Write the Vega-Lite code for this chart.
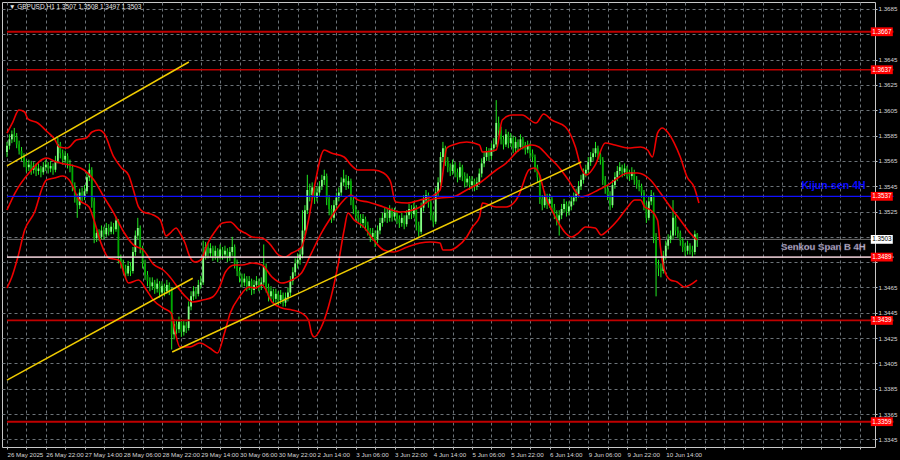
{
"$schema":"https://vega.github.io/schema/vega-lite/v6.json",
"width":873,"height":445,
"autosize":{"type":"none"},
"padding":{"left":2,"top":2,"right":25,"bottom":13},
"background":"#000000",
"config":{"view":{"stroke":"#c8c8c8","strokeWidth":1,"fill":"#000000"},"font":"Liberation Sans, Arial, sans-serif",
 "axis":{"grid":true,"gridColor":"#6c7378","gridDash":[3,3],"gridWidth":1,"domain":false,"ticks":true,"tickSize":2,"tickColor":"#c8c8c8","labelColor":"#d6d6d6","labelFontSize":6.2,"labelFont":"Liberation Sans, Arial, sans-serif","labelOverlap":false,"labelBound":false,"labelFlush":false,"title":null,"zindex":0}},
"datasets":{
"levels":[
{"name":"1.3667","p":1.3667,"kind":"major"},
{"name":"1.3637","p":1.3637,"kind":"minor"},
{"name":"Kijun-sen 4H","p":1.3537,"kind":"kijun"},
{"name":"Senkou Span B 4H","p":1.3489,"kind":"senkou"},
{"name":"1.3439","p":1.3439,"kind":"minor"},
{"name":"1.3359","p":1.3359,"kind":"major"},
{"name":"last","p":1.3503,"kind":"last"}
],
"trend":[
{"t":"A","i":0,"p":1.3561},{"t":"A","i":75.1,"p":1.36431},
{"t":"B","i":0,"p":1.33918},{"t":"B","i":76.7,"p":1.34723},
{"t":"C","i":68.2,"p":1.3414},{"t":"C","i":237.1,"p":1.35641}
],
"bb":[
{"b":"u","i":0,"p":1.3587},{"b":"u","i":2.4,"p":1.35957},{"b":"u","i":4.9,"p":1.36052},{"b":"u","i":7.3,"p":1.36036},{"b":"u","i":8.6,"p":1.35981},{"b":"u","i":12.7,"p":1.35949},{"b":"u","i":16.7,"p":1.35878},{"b":"u","i":19.6,"p":1.35823},{"b":"u","i":21.6,"p":1.3576},{"b":"u","i":24.9,"p":1.35752},{"b":"u","i":28.6,"p":1.35815},{"b":"u","i":32.7,"p":1.35831},{"b":"u","i":35.1,"p":1.35878},{"b":"u","i":38,"p":1.35894},{"b":"u","i":40,"p":1.3587},{"b":"u","i":44.1,"p":1.35681},{"b":"u","i":47.3,"p":1.35594},{"b":"u","i":50.2,"p":1.35538},{"b":"u","i":52.2,"p":1.3542},{"b":"u","i":54.3,"p":1.35286},{"b":"u","i":56.3,"p":1.35246},{"b":"u","i":60.4,"p":1.35223},{"b":"u","i":63.3,"p":1.35183},{"b":"u","i":65.7,"p":1.35057},{"b":"u","i":67.8,"p":1.35088},{"b":"u","i":69.8,"p":1.3512},{"b":"u","i":71.4,"p":1.3508},{"b":"u","i":73.5,"p":1.35001},{"b":"u","i":75.5,"p":1.34891},{"b":"u","i":77.6,"p":1.34851},{"b":"u","i":80,"p":1.34867},{"b":"u","i":82.9,"p":1.35001},{"b":"u","i":85.7,"p":1.35088},{"b":"u","i":89,"p":1.35159},{"b":"u","i":92.2,"p":1.35167},{"b":"u","i":95.9,"p":1.35104},{"b":"u","i":98.4,"p":1.3508},{"b":"u","i":101.2,"p":1.35049},{"b":"u","i":105.3,"p":1.35041},{"b":"u","i":108.2,"p":1.35001},{"b":"u","i":112.2,"p":1.34906},{"b":"u","i":114.7,"p":1.34891},{"b":"u","i":117.6,"p":1.34922},{"b":"u","i":121.6,"p":1.3497},{"b":"u","i":124.5,"p":1.35183},{"b":"u","i":126.9,"p":1.35444},{"b":"u","i":131,"p":1.35736},{"b":"u","i":133.9,"p":1.35712},{"b":"u","i":139.2,"p":1.35681},{"b":"u","i":142,"p":1.35618},{"b":"u","i":144.9,"p":1.35578},{"b":"u","i":151.4,"p":1.35578},{"b":"u","i":155.5,"p":1.35554},{"b":"u","i":158.4,"p":1.35483},{"b":"u","i":160.4,"p":1.35325},{"b":"u","i":165.3,"p":1.35317},{"b":"u","i":170.6,"p":1.35341},{"b":"u","i":175.9,"p":1.35373},{"b":"u","i":178.8,"p":1.3542},{"b":"u","i":181.6,"p":1.35752},{"b":"u","i":184.1,"p":1.35776},{"b":"u","i":189.8,"p":1.35799},{"b":"u","i":195.1,"p":1.35776},{"b":"u","i":196.3,"p":1.3572},{"b":"u","i":202,"p":1.35736},{"b":"u","i":204.5,"p":1.35973},{"b":"u","i":208.6,"p":1.36013},{"b":"u","i":212.7,"p":1.36013},{"b":"u","i":218.4,"p":1.35949},{"b":"u","i":221.6,"p":1.3602},{"b":"u","i":224.9,"p":1.35973},{"b":"u","i":230.6,"p":1.35918},{"b":"u","i":234.7,"p":1.3576},{"b":"u","i":237.1,"p":1.35594},{"b":"u","i":239.2,"p":1.35538},{"b":"u","i":242.9,"p":1.35618},{"b":"u","i":247,"p":1.35791},{"b":"u","i":251,"p":1.35776},{"b":"u","i":256.3,"p":1.35752},{"b":"u","i":261.6,"p":1.3576},{"b":"u","i":264.5,"p":1.35736},{"b":"u","i":266.5,"p":1.35681},{"b":"u","i":268.6,"p":1.3587},{"b":"u","i":270.6,"p":1.3591},{"b":"u","i":272.7,"p":1.35878},{"b":"u","i":275.5,"p":1.35791},{"b":"u","i":278,"p":1.35681},{"b":"u","i":280.8,"p":1.35523},{"b":"u","i":283.7,"p":1.35444},{"b":"u","i":285.7,"p":1.35317},
{"b":"m","i":0,"p":1.35262},{"b":"m","i":3.3,"p":1.35396},{"b":"m","i":9.4,"p":1.35562},{"b":"m","i":16.3,"p":1.35673},{"b":"m","i":20.4,"p":1.35641},{"b":"m","i":23.7,"p":1.35625},{"b":"m","i":27.8,"p":1.3561},{"b":"m","i":31.8,"p":1.35578},{"b":"m","i":35.9,"p":1.35499},{"b":"m","i":40,"p":1.35365},{"b":"m","i":44.1,"p":1.35238},{"b":"m","i":48.2,"p":1.35088},{"b":"m","i":52.2,"p":1.34986},{"b":"m","i":56.3,"p":1.34946},{"b":"m","i":60.4,"p":1.34835},{"b":"m","i":64.5,"p":1.34788},{"b":"m","i":67.3,"p":1.34733},{"b":"m","i":69.8,"p":1.3467},{"b":"m","i":73.9,"p":1.34575},{"b":"m","i":76.7,"p":1.34535},{"b":"m","i":80.8,"p":1.34551},{"b":"m","i":84.9,"p":1.34575},{"b":"m","i":87.8,"p":1.34654},{"b":"m","i":90.2,"p":1.34772},{"b":"m","i":93.9,"p":1.34828},{"b":"m","i":97.1,"p":1.34828},{"b":"m","i":101.2,"p":1.34843},{"b":"m","i":105.3,"p":1.34828},{"b":"m","i":109.4,"p":1.34733},{"b":"m","i":113.5,"p":1.34685},{"b":"m","i":117.6,"p":1.34709},{"b":"m","i":121.6,"p":1.34764},{"b":"m","i":125.7,"p":1.34922},{"b":"m","i":129.8,"p":1.3508},{"b":"m","i":133.9,"p":1.35207},{"b":"m","i":138,"p":1.35317},{"b":"m","i":142,"p":1.35381},{"b":"m","i":144.9,"p":1.35341},{"b":"m","i":149,"p":1.35325},{"b":"m","i":155.5,"p":1.35286},{"b":"m","i":162.4,"p":1.35246},{"b":"m","i":170.6,"p":1.35286},{"b":"m","i":174.7,"p":1.35341},{"b":"m","i":178.8,"p":1.35357},{"b":"m","i":184.1,"p":1.35365},{"b":"m","i":189.8,"p":1.3542},{"b":"m","i":195.1,"p":1.35475},{"b":"m","i":202,"p":1.35578},{"b":"m","i":206.1,"p":1.35633},{"b":"m","i":211.4,"p":1.35736},{"b":"m","i":216.7,"p":1.35776},{"b":"m","i":219.6,"p":1.3576},{"b":"m","i":223.7,"p":1.35681},{"b":"m","i":227.8,"p":1.35602},{"b":"m","i":231.8,"p":1.35499},{"b":"m","i":237.1,"p":1.35365},{"b":"m","i":240,"p":1.35381},{"b":"m","i":244.1,"p":1.3542},{"b":"m","i":248.2,"p":1.3546},{"b":"m","i":252.2,"p":1.35515},{"b":"m","i":256.3,"p":1.35554},{"b":"m","i":260.4,"p":1.35554},{"b":"m","i":265.7,"p":1.35499},{"b":"m","i":269.8,"p":1.35396},{"b":"m","i":273.9,"p":1.35286},{"b":"m","i":278,"p":1.35183},{"b":"m","i":282,"p":1.3508},{"b":"m","i":284.9,"p":1.35025},
{"b":"l","i":0,"p":1.34646},{"b":"l","i":2,"p":1.34733},{"b":"l","i":4.5,"p":1.34891},{"b":"l","i":7.3,"p":1.35104},{"b":"l","i":11.4,"p":1.35246},{"b":"l","i":14.7,"p":1.35444},{"b":"l","i":16.3,"p":1.35499},{"b":"l","i":19.6,"p":1.35515},{"b":"l","i":22.9,"p":1.35531},{"b":"l","i":25.7,"p":1.35499},{"b":"l","i":29.8,"p":1.35341},{"b":"l","i":33.9,"p":1.35286},{"b":"l","i":35.9,"p":1.35183},{"b":"l","i":38.8,"p":1.35001},{"b":"l","i":42,"p":1.34883},{"b":"l","i":46.1,"p":1.34867},{"b":"l","i":50.2,"p":1.34685},{"b":"l","i":54.3,"p":1.34709},{"b":"l","i":57.6,"p":1.3463},{"b":"l","i":60.4,"p":1.34551},{"b":"l","i":64.5,"p":1.34488},{"b":"l","i":67.8,"p":1.34448},{"b":"l","i":69.4,"p":1.34299},{"b":"l","i":71.4,"p":1.3418},{"b":"l","i":75.5,"p":1.3418},{"b":"l","i":79.6,"p":1.34211},{"b":"l","i":83.7,"p":1.34172},{"b":"l","i":86.9,"p":1.34132},{"b":"l","i":89.8,"p":1.34291},{"b":"l","i":92.2,"p":1.34448},{"b":"l","i":95.9,"p":1.34575},{"b":"l","i":100,"p":1.34654},{"b":"l","i":102.4,"p":1.34646},{"b":"l","i":105.3,"p":1.3467},{"b":"l","i":109.4,"p":1.34535},{"b":"l","i":113.5,"p":1.34488},{"b":"l","i":117.6,"p":1.34472},{"b":"l","i":121.6,"p":1.34448},{"b":"l","i":124.5,"p":1.34393},{"b":"l","i":125.7,"p":1.34291},{"b":"l","i":126.9,"p":1.34259},{"b":"l","i":129.8,"p":1.34338},{"b":"l","i":132.7,"p":1.34496},{"b":"l","i":136.7,"p":1.34828},{"b":"l","i":139.2,"p":1.35104},{"b":"l","i":140.8,"p":1.35238},{"b":"l","i":143.3,"p":1.35183},{"b":"l","i":147.3,"p":1.35128},{"b":"l","i":151.4,"p":1.35025},{"b":"l","i":155.5,"p":1.34946},{"b":"l","i":159.6,"p":1.3493},{"b":"l","i":165.3,"p":1.3497},{"b":"l","i":170.6,"p":1.35001},{"b":"l","i":174.7,"p":1.35009},{"b":"l","i":178.8,"p":1.35001},{"b":"l","i":180,"p":1.34946},{"b":"l","i":182.9,"p":1.34946},{"b":"l","i":185.7,"p":1.3497},{"b":"l","i":189.8,"p":1.35049},{"b":"l","i":192.2,"p":1.35128},{"b":"l","i":195.1,"p":1.35207},{"b":"l","i":196.3,"p":1.35317},{"b":"l","i":202,"p":1.35286},{"b":"l","i":206.1,"p":1.35286},{"b":"l","i":210.2,"p":1.35341},{"b":"l","i":211.4,"p":1.35381},{"b":"l","i":215.5,"p":1.35578},{"b":"l","i":217.6,"p":1.35594},{"b":"l","i":219.6,"p":1.35554},{"b":"l","i":222.4,"p":1.35365},{"b":"l","i":224.9,"p":1.35262},{"b":"l","i":227.8,"p":1.35159},{"b":"l","i":230.6,"p":1.3508},{"b":"l","i":233.1,"p":1.35049},{"b":"l","i":235.9,"p":1.3508},{"b":"l","i":238.8,"p":1.35128},{"b":"l","i":242.9,"p":1.3512},{"b":"l","i":245.3,"p":1.35065},{"b":"l","i":248.2,"p":1.35104},{"b":"l","i":252.2,"p":1.35183},{"b":"l","i":256.3,"p":1.35286},{"b":"l","i":259.2,"p":1.35341},{"b":"l","i":261.6,"p":1.35341},{"b":"l","i":263.3,"p":1.35286},{"b":"l","i":265.7,"p":1.35262},{"b":"l","i":268.6,"p":1.35183},{"b":"l","i":269.8,"p":1.3497},{"b":"l","i":271.4,"p":1.34788},{"b":"l","i":273.9,"p":1.34709},{"b":"l","i":276.7,"p":1.34694},{"b":"l","i":279.6,"p":1.34654},{"b":"l","i":282,"p":1.3467},{"b":"l","i":284.9,"p":1.34709}
],
"candles":[
{"i":0,"o":1.3572,"h":1.358,"l":1.3568,"c":1.3577},
{"i":1,"o":1.3577,"h":1.3586,"l":1.3574,"c":1.3582},
{"i":2,"o":1.3582,"h":1.3589,"l":1.3579,"c":1.3586},
{"i":3,"o":1.3586,"h":1.3591,"l":1.358,"c":1.3584},
{"i":4,"o":1.3584,"h":1.3587,"l":1.3575,"c":1.3578},
{"i":5,"o":1.3578,"h":1.3581,"l":1.357,"c":1.3573},
{"i":6,"o":1.3573,"h":1.3576,"l":1.3565,"c":1.3569},
{"i":7,"o":1.3569,"h":1.3571,"l":1.356,"c":1.3564},
{"i":8,"o":1.3564,"h":1.3566,"l":1.3556,"c":1.356},
{"i":9,"o":1.356,"h":1.3566,"l":1.3557,"c":1.3562},
{"i":10,"o":1.3562,"h":1.3565,"l":1.3554,"c":1.3558},
{"i":11,"o":1.3558,"h":1.3564,"l":1.3555,"c":1.3561},
{"i":12,"o":1.3561,"h":1.3563,"l":1.3553,"c":1.3557},
{"i":13,"o":1.3557,"h":1.3563,"l":1.3554,"c":1.3559},
{"i":14,"o":1.3559,"h":1.3561,"l":1.3552,"c":1.3556},
{"i":15,"o":1.3556,"h":1.3564,"l":1.3554,"c":1.356},
{"i":16,"o":1.356,"h":1.3566,"l":1.3557,"c":1.3562},
{"i":17,"o":1.3562,"h":1.3564,"l":1.3555,"c":1.3559},
{"i":18,"o":1.3559,"h":1.3565,"l":1.3556,"c":1.3561},
{"i":19,"o":1.3561,"h":1.3563,"l":1.3554,"c":1.3558},
{"i":20,"o":1.3558,"h":1.3569,"l":1.3556,"c":1.3565},
{"i":21,"o":1.3565,"h":1.3583,"l":1.3563,"c":1.3578},
{"i":22,"o":1.3578,"h":1.358,"l":1.3567,"c":1.3571},
{"i":23,"o":1.3571,"h":1.3574,"l":1.3562,"c":1.3566},
{"i":24,"o":1.3566,"h":1.3573,"l":1.3563,"c":1.3569},
{"i":25,"o":1.3569,"h":1.3571,"l":1.3559,"c":1.3563},
{"i":26,"o":1.3563,"h":1.3566,"l":1.3556,"c":1.356},
{"i":27,"o":1.356,"h":1.3562,"l":1.3541,"c":1.3545},
{"i":28,"o":1.3545,"h":1.3548,"l":1.3532,"c":1.3536},
{"i":29,"o":1.3536,"h":1.3539,"l":1.352,"c":1.353},
{"i":30,"o":1.353,"h":1.3543,"l":1.3527,"c":1.354},
{"i":31,"o":1.354,"h":1.3544,"l":1.3533,"c":1.3537},
{"i":32,"o":1.3537,"h":1.3546,"l":1.3534,"c":1.3541},
{"i":33,"o":1.3541,"h":1.3556,"l":1.3539,"c":1.3552},
{"i":34,"o":1.3552,"h":1.3563,"l":1.3549,"c":1.3558},
{"i":35,"o":1.3558,"h":1.356,"l":1.3528,"c":1.3533},
{"i":36,"o":1.3533,"h":1.3536,"l":1.35,"c":1.3504},
{"i":37,"o":1.3504,"h":1.3512,"l":1.3501,"c":1.3508},
{"i":38,"o":1.3508,"h":1.3511,"l":1.3502,"c":1.3505},
{"i":39,"o":1.3505,"h":1.3514,"l":1.3503,"c":1.351},
{"i":40,"o":1.351,"h":1.3513,"l":1.3503,"c":1.3507},
{"i":41,"o":1.3507,"h":1.3516,"l":1.3505,"c":1.3512},
{"i":42,"o":1.3512,"h":1.3515,"l":1.3506,"c":1.3509},
{"i":43,"o":1.3509,"h":1.3517,"l":1.3507,"c":1.3513},
{"i":44,"o":1.3513,"h":1.3516,"l":1.3507,"c":1.3511},
{"i":45,"o":1.3511,"h":1.3521,"l":1.3509,"c":1.3518},
{"i":46,"o":1.3518,"h":1.3519,"l":1.3484,"c":1.3488},
{"i":47,"o":1.3488,"h":1.3491,"l":1.348,"c":1.3484},
{"i":48,"o":1.3484,"h":1.3487,"l":1.3476,"c":1.348},
{"i":49,"o":1.348,"h":1.3483,"l":1.3472,"c":1.3476},
{"i":50,"o":1.3476,"h":1.3486,"l":1.3474,"c":1.3482},
{"i":51,"o":1.3482,"h":1.3485,"l":1.3474,"c":1.3478},
{"i":52,"o":1.3478,"h":1.3497,"l":1.3476,"c":1.3493},
{"i":53,"o":1.3493,"h":1.351,"l":1.349,"c":1.3506},
{"i":54,"o":1.3506,"h":1.352,"l":1.3503,"c":1.3512},
{"i":55,"o":1.3512,"h":1.3514,"l":1.3492,"c":1.3496},
{"i":56,"o":1.3496,"h":1.3498,"l":1.348,"c":1.3484},
{"i":57,"o":1.3484,"h":1.3487,"l":1.3471,"c":1.3475},
{"i":58,"o":1.3475,"h":1.3478,"l":1.3466,"c":1.347},
{"i":59,"o":1.347,"h":1.3473,"l":1.3462,"c":1.3466},
{"i":60,"o":1.3466,"h":1.3473,"l":1.3463,"c":1.3469},
{"i":61,"o":1.3469,"h":1.3471,"l":1.346,"c":1.3464},
{"i":62,"o":1.3464,"h":1.3472,"l":1.3461,"c":1.3468},
{"i":63,"o":1.3468,"h":1.347,"l":1.3457,"c":1.3461},
{"i":64,"o":1.3461,"h":1.347,"l":1.3459,"c":1.3466},
{"i":65,"o":1.3466,"h":1.3468,"l":1.3458,"c":1.3462},
{"i":66,"o":1.3462,"h":1.3471,"l":1.346,"c":1.3467},
{"i":67,"o":1.3467,"h":1.3469,"l":1.3459,"c":1.3463},
{"i":68,"o":1.3463,"h":1.3465,"l":1.3416,"c":1.3428},
{"i":69,"o":1.3428,"h":1.344,"l":1.3424,"c":1.3436},
{"i":70,"o":1.3436,"h":1.3439,"l":1.3428,"c":1.3432},
{"i":71,"o":1.3432,"h":1.3442,"l":1.3429,"c":1.3438},
{"i":72,"o":1.3438,"h":1.344,"l":1.3426,"c":1.343},
{"i":73,"o":1.343,"h":1.3439,"l":1.3427,"c":1.3435},
{"i":74,"o":1.3435,"h":1.3438,"l":1.3429,"c":1.3433},
{"i":75,"o":1.3433,"h":1.3454,"l":1.3431,"c":1.345},
{"i":76,"o":1.345,"h":1.3462,"l":1.3447,"c":1.3458},
{"i":77,"o":1.3458,"h":1.3466,"l":1.3455,"c":1.3462},
{"i":78,"o":1.3462,"h":1.3465,"l":1.3456,"c":1.346},
{"i":79,"o":1.346,"h":1.3471,"l":1.3458,"c":1.3467},
{"i":80,"o":1.3467,"h":1.3474,"l":1.3464,"c":1.3469},
{"i":81,"o":1.3469,"h":1.3502,"l":1.3467,"c":1.349},
{"i":82,"o":1.349,"h":1.3501,"l":1.3487,"c":1.3497},
{"i":83,"o":1.3497,"h":1.35,"l":1.3488,"c":1.3492},
{"i":84,"o":1.3492,"h":1.35,"l":1.3489,"c":1.3496},
{"i":85,"o":1.3496,"h":1.3498,"l":1.3486,"c":1.349},
{"i":86,"o":1.349,"h":1.3498,"l":1.3487,"c":1.3494},
{"i":87,"o":1.3494,"h":1.3496,"l":1.3485,"c":1.3489},
{"i":88,"o":1.3489,"h":1.3499,"l":1.3487,"c":1.3495},
{"i":89,"o":1.3495,"h":1.3497,"l":1.3487,"c":1.3491},
{"i":90,"o":1.3491,"h":1.3498,"l":1.3488,"c":1.3494},
{"i":91,"o":1.3494,"h":1.3496,"l":1.3485,"c":1.3489},
{"i":92,"o":1.3489,"h":1.3497,"l":1.3486,"c":1.3493},
{"i":93,"o":1.3493,"h":1.3505,"l":1.349,"c":1.3497},
{"i":94,"o":1.3497,"h":1.3499,"l":1.348,"c":1.3484},
{"i":95,"o":1.3484,"h":1.3487,"l":1.3474,"c":1.3478},
{"i":96,"o":1.3478,"h":1.3481,"l":1.3469,"c":1.3473},
{"i":97,"o":1.3473,"h":1.3476,"l":1.3465,"c":1.3469},
{"i":98,"o":1.3469,"h":1.3476,"l":1.3466,"c":1.3472},
{"i":99,"o":1.3472,"h":1.3474,"l":1.3462,"c":1.3466},
{"i":100,"o":1.3466,"h":1.3474,"l":1.3463,"c":1.347},
{"i":101,"o":1.347,"h":1.3472,"l":1.3459,"c":1.3463},
{"i":102,"o":1.3463,"h":1.3471,"l":1.346,"c":1.3467},
{"i":103,"o":1.3467,"h":1.3474,"l":1.3464,"c":1.347},
{"i":104,"o":1.347,"h":1.3472,"l":1.3462,"c":1.3466},
{"i":105,"o":1.3466,"h":1.3473,"l":1.3463,"c":1.3469},
{"i":106,"o":1.3469,"h":1.3499,"l":1.3467,"c":1.3482},
{"i":107,"o":1.3482,"h":1.3484,"l":1.3461,"c":1.3465},
{"i":108,"o":1.3465,"h":1.3468,"l":1.3454,"c":1.3458},
{"i":109,"o":1.3458,"h":1.3466,"l":1.3455,"c":1.3462},
{"i":110,"o":1.3462,"h":1.3464,"l":1.3452,"c":1.3456},
{"i":111,"o":1.3456,"h":1.3464,"l":1.3453,"c":1.346},
{"i":112,"o":1.346,"h":1.3462,"l":1.3451,"c":1.3455},
{"i":113,"o":1.3455,"h":1.3463,"l":1.3452,"c":1.3459},
{"i":114,"o":1.3459,"h":1.3461,"l":1.345,"c":1.3453},
{"i":115,"o":1.3453,"h":1.3461,"l":1.345,"c":1.3457},
{"i":116,"o":1.3457,"h":1.3465,"l":1.3454,"c":1.3461},
{"i":117,"o":1.3461,"h":1.3474,"l":1.3458,"c":1.347},
{"i":118,"o":1.347,"h":1.3481,"l":1.3467,"c":1.3477},
{"i":119,"o":1.3477,"h":1.3488,"l":1.3474,"c":1.3484},
{"i":120,"o":1.3484,"h":1.3492,"l":1.348,"c":1.3487},
{"i":121,"o":1.3487,"h":1.3496,"l":1.3483,"c":1.3491},
{"i":122,"o":1.3491,"h":1.3526,"l":1.3488,"c":1.351},
{"i":123,"o":1.351,"h":1.353,"l":1.3506,"c":1.3526},
{"i":124,"o":1.3526,"h":1.3554,"l":1.3523,"c":1.3542},
{"i":125,"o":1.3542,"h":1.3547,"l":1.3533,"c":1.3538},
{"i":126,"o":1.3538,"h":1.3548,"l":1.3535,"c":1.3544},
{"i":127,"o":1.3544,"h":1.3546,"l":1.3531,"c":1.3536},
{"i":128,"o":1.3536,"h":1.3545,"l":1.3533,"c":1.354},
{"i":129,"o":1.354,"h":1.3549,"l":1.3537,"c":1.3545},
{"i":130,"o":1.3545,"h":1.3554,"l":1.3542,"c":1.355},
{"i":131,"o":1.355,"h":1.3558,"l":1.3546,"c":1.3553},
{"i":132,"o":1.3553,"h":1.3555,"l":1.353,"c":1.3535},
{"i":133,"o":1.3535,"h":1.3538,"l":1.3522,"c":1.3527},
{"i":134,"o":1.3527,"h":1.353,"l":1.3516,"c":1.352},
{"i":135,"o":1.352,"h":1.3534,"l":1.3518,"c":1.353},
{"i":136,"o":1.353,"h":1.354,"l":1.3527,"c":1.3536},
{"i":137,"o":1.3536,"h":1.3544,"l":1.3533,"c":1.354},
{"i":138,"o":1.354,"h":1.3552,"l":1.3537,"c":1.3548},
{"i":139,"o":1.3548,"h":1.3558,"l":1.3545,"c":1.3551},
{"i":140,"o":1.3551,"h":1.3554,"l":1.3542,"c":1.3546},
{"i":141,"o":1.3546,"h":1.3553,"l":1.3543,"c":1.3549},
{"i":142,"o":1.3549,"h":1.3551,"l":1.353,"c":1.3534},
{"i":143,"o":1.3534,"h":1.3537,"l":1.3523,"c":1.3527},
{"i":144,"o":1.3527,"h":1.353,"l":1.3518,"c":1.3522},
{"i":145,"o":1.3522,"h":1.3526,"l":1.3516,"c":1.352},
{"i":146,"o":1.352,"h":1.3523,"l":1.3512,"c":1.3516},
{"i":147,"o":1.3516,"h":1.3523,"l":1.3512,"c":1.3519},
{"i":148,"o":1.3519,"h":1.3521,"l":1.351,"c":1.3514},
{"i":149,"o":1.3514,"h":1.3517,"l":1.3506,"c":1.351},
{"i":150,"o":1.351,"h":1.3512,"l":1.3501,"c":1.3505},
{"i":151,"o":1.3505,"h":1.3512,"l":1.3502,"c":1.3508},
{"i":152,"o":1.3508,"h":1.351,"l":1.3497,"c":1.3503},
{"i":153,"o":1.3503,"h":1.3514,"l":1.35,"c":1.351},
{"i":154,"o":1.351,"h":1.352,"l":1.3507,"c":1.3516},
{"i":155,"o":1.3516,"h":1.3524,"l":1.3513,"c":1.352},
{"i":156,"o":1.352,"h":1.3528,"l":1.3517,"c":1.3524},
{"i":157,"o":1.3524,"h":1.3527,"l":1.3516,"c":1.352},
{"i":158,"o":1.352,"h":1.353,"l":1.3517,"c":1.3526},
{"i":159,"o":1.3526,"h":1.3528,"l":1.3517,"c":1.3521},
{"i":160,"o":1.3521,"h":1.3528,"l":1.3518,"c":1.3524},
{"i":161,"o":1.3524,"h":1.3526,"l":1.3515,"c":1.3519},
{"i":162,"o":1.3519,"h":1.3522,"l":1.3512,"c":1.3516},
{"i":163,"o":1.3516,"h":1.3524,"l":1.3513,"c":1.352},
{"i":164,"o":1.352,"h":1.3522,"l":1.3511,"c":1.3515},
{"i":165,"o":1.3515,"h":1.3526,"l":1.3513,"c":1.3522},
{"i":166,"o":1.3522,"h":1.3531,"l":1.3519,"c":1.3527},
{"i":167,"o":1.3527,"h":1.353,"l":1.3519,"c":1.3523},
{"i":168,"o":1.3523,"h":1.3532,"l":1.352,"c":1.3528},
{"i":169,"o":1.3528,"h":1.353,"l":1.351,"c":1.3514},
{"i":170,"o":1.3514,"h":1.3517,"l":1.3505,"c":1.3509},
{"i":171,"o":1.3509,"h":1.3532,"l":1.3507,"c":1.3528},
{"i":172,"o":1.3528,"h":1.3538,"l":1.3525,"c":1.3534},
{"i":173,"o":1.3534,"h":1.3542,"l":1.3531,"c":1.3538},
{"i":174,"o":1.3538,"h":1.354,"l":1.3528,"c":1.3532},
{"i":175,"o":1.3532,"h":1.3534,"l":1.3518,"c":1.3522},
{"i":176,"o":1.3522,"h":1.3525,"l":1.3513,"c":1.3517},
{"i":177,"o":1.3517,"h":1.3544,"l":1.3515,"c":1.354},
{"i":178,"o":1.354,"h":1.3552,"l":1.3537,"c":1.3548},
{"i":179,"o":1.3548,"h":1.3572,"l":1.3545,"c":1.3568},
{"i":180,"o":1.3568,"h":1.358,"l":1.3564,"c":1.3575},
{"i":181,"o":1.3575,"h":1.3577,"l":1.3561,"c":1.3565},
{"i":182,"o":1.3565,"h":1.3568,"l":1.3556,"c":1.356},
{"i":183,"o":1.356,"h":1.3563,"l":1.3553,"c":1.3557},
{"i":184,"o":1.3557,"h":1.3566,"l":1.3554,"c":1.3562},
{"i":185,"o":1.3562,"h":1.3564,"l":1.3552,"c":1.3556},
{"i":186,"o":1.3556,"h":1.3559,"l":1.3548,"c":1.3552},
{"i":187,"o":1.3552,"h":1.3564,"l":1.355,"c":1.356},
{"i":188,"o":1.356,"h":1.3562,"l":1.3549,"c":1.3553},
{"i":189,"o":1.3553,"h":1.3556,"l":1.3544,"c":1.3548},
{"i":190,"o":1.3548,"h":1.3555,"l":1.3545,"c":1.3551},
{"i":191,"o":1.3551,"h":1.3553,"l":1.3542,"c":1.3546},
{"i":192,"o":1.3546,"h":1.3553,"l":1.3543,"c":1.3549},
{"i":193,"o":1.3549,"h":1.3551,"l":1.3541,"c":1.3545},
{"i":194,"o":1.3545,"h":1.3552,"l":1.3542,"c":1.3548},
{"i":195,"o":1.3548,"h":1.3559,"l":1.3546,"c":1.3555},
{"i":196,"o":1.3555,"h":1.3567,"l":1.3552,"c":1.3563},
{"i":197,"o":1.3563,"h":1.3572,"l":1.356,"c":1.3568},
{"i":198,"o":1.3568,"h":1.3576,"l":1.3565,"c":1.3572},
{"i":199,"o":1.3572,"h":1.3575,"l":1.3565,"c":1.3569},
{"i":200,"o":1.3569,"h":1.3579,"l":1.3566,"c":1.3575},
{"i":201,"o":1.3575,"h":1.3583,"l":1.3572,"c":1.3578},
{"i":202,"o":1.3578,"h":1.3613,"l":1.3576,"c":1.3595},
{"i":203,"o":1.3595,"h":1.36,"l":1.3585,"c":1.3589},
{"i":204,"o":1.3589,"h":1.3592,"l":1.3578,"c":1.3582},
{"i":205,"o":1.3582,"h":1.3585,"l":1.3574,"c":1.3578},
{"i":206,"o":1.3578,"h":1.359,"l":1.3576,"c":1.3586},
{"i":207,"o":1.3586,"h":1.3588,"l":1.3575,"c":1.3579},
{"i":208,"o":1.3579,"h":1.3587,"l":1.3576,"c":1.3583},
{"i":209,"o":1.3583,"h":1.3585,"l":1.3571,"c":1.3575},
{"i":210,"o":1.3575,"h":1.3584,"l":1.3572,"c":1.358},
{"i":211,"o":1.358,"h":1.3582,"l":1.3572,"c":1.3576},
{"i":212,"o":1.3576,"h":1.3586,"l":1.3574,"c":1.3582},
{"i":213,"o":1.3582,"h":1.3584,"l":1.3574,"c":1.3578},
{"i":214,"o":1.3578,"h":1.358,"l":1.357,"c":1.3574},
{"i":215,"o":1.3574,"h":1.3581,"l":1.3571,"c":1.3577},
{"i":216,"o":1.3577,"h":1.3579,"l":1.3567,"c":1.3571},
{"i":217,"o":1.3571,"h":1.3574,"l":1.3564,"c":1.3568},
{"i":218,"o":1.3568,"h":1.357,"l":1.3556,"c":1.356},
{"i":219,"o":1.356,"h":1.3562,"l":1.3548,"c":1.3552},
{"i":220,"o":1.3552,"h":1.3554,"l":1.3531,"c":1.3535},
{"i":221,"o":1.3535,"h":1.3538,"l":1.3526,"c":1.353},
{"i":222,"o":1.353,"h":1.3541,"l":1.3528,"c":1.3537},
{"i":223,"o":1.3537,"h":1.3539,"l":1.3527,"c":1.3531},
{"i":224,"o":1.3531,"h":1.3539,"l":1.3528,"c":1.3535},
{"i":225,"o":1.3535,"h":1.3537,"l":1.3524,"c":1.3528},
{"i":226,"o":1.3528,"h":1.3531,"l":1.3519,"c":1.3523},
{"i":227,"o":1.3523,"h":1.3526,"l":1.3514,"c":1.3518},
{"i":228,"o":1.3518,"h":1.3526,"l":1.3506,"c":1.3522},
{"i":229,"o":1.3522,"h":1.3531,"l":1.3519,"c":1.3527},
{"i":230,"o":1.3527,"h":1.3535,"l":1.3524,"c":1.3531},
{"i":231,"o":1.3531,"h":1.3533,"l":1.3521,"c":1.3525},
{"i":232,"o":1.3525,"h":1.3533,"l":1.3522,"c":1.3529},
{"i":233,"o":1.3529,"h":1.3537,"l":1.3526,"c":1.3533},
{"i":234,"o":1.3533,"h":1.354,"l":1.353,"c":1.3536},
{"i":235,"o":1.3536,"h":1.3543,"l":1.3533,"c":1.3539},
{"i":236,"o":1.3539,"h":1.3549,"l":1.3536,"c":1.3545},
{"i":237,"o":1.3545,"h":1.3554,"l":1.3542,"c":1.355},
{"i":238,"o":1.355,"h":1.3559,"l":1.3547,"c":1.3555},
{"i":239,"o":1.3555,"h":1.3562,"l":1.3552,"c":1.3558},
{"i":240,"o":1.3558,"h":1.3568,"l":1.3555,"c":1.3564},
{"i":241,"o":1.3564,"h":1.3572,"l":1.3561,"c":1.3568},
{"i":242,"o":1.3568,"h":1.3575,"l":1.3565,"c":1.3571},
{"i":243,"o":1.3571,"h":1.358,"l":1.3568,"c":1.3575},
{"i":244,"o":1.3575,"h":1.3577,"l":1.3566,"c":1.357},
{"i":245,"o":1.357,"h":1.3573,"l":1.3562,"c":1.3566},
{"i":246,"o":1.3566,"h":1.3568,"l":1.3546,"c":1.355},
{"i":247,"o":1.355,"h":1.3553,"l":1.3539,"c":1.3543},
{"i":248,"o":1.3543,"h":1.3546,"l":1.3534,"c":1.3538},
{"i":249,"o":1.3538,"h":1.3541,"l":1.3526,"c":1.353},
{"i":250,"o":1.353,"h":1.355,"l":1.3528,"c":1.3546},
{"i":251,"o":1.3546,"h":1.3556,"l":1.3543,"c":1.3552},
{"i":252,"o":1.3552,"h":1.3561,"l":1.3549,"c":1.3557},
{"i":253,"o":1.3557,"h":1.3564,"l":1.3554,"c":1.356},
{"i":254,"o":1.356,"h":1.3562,"l":1.3552,"c":1.3556},
{"i":255,"o":1.3556,"h":1.3563,"l":1.3553,"c":1.3559},
{"i":256,"o":1.3559,"h":1.3561,"l":1.3551,"c":1.3555},
{"i":257,"o":1.3555,"h":1.3558,"l":1.3549,"c":1.3553},
{"i":258,"o":1.3553,"h":1.356,"l":1.355,"c":1.3556},
{"i":259,"o":1.3556,"h":1.3558,"l":1.3546,"c":1.355},
{"i":260,"o":1.355,"h":1.3553,"l":1.3543,"c":1.3547},
{"i":261,"o":1.3547,"h":1.355,"l":1.3541,"c":1.3545},
{"i":262,"o":1.3545,"h":1.3547,"l":1.3536,"c":1.354},
{"i":263,"o":1.354,"h":1.3542,"l":1.3526,"c":1.353},
{"i":264,"o":1.353,"h":1.3532,"l":1.3516,"c":1.352},
{"i":265,"o":1.352,"h":1.3537,"l":1.3518,"c":1.3533},
{"i":266,"o":1.3533,"h":1.3542,"l":1.353,"c":1.3538},
{"i":267,"o":1.3538,"h":1.354,"l":1.35,"c":1.3505},
{"i":268,"o":1.3505,"h":1.3508,"l":1.3458,"c":1.3483},
{"i":269,"o":1.3483,"h":1.3487,"l":1.3474,"c":1.348},
{"i":270,"o":1.348,"h":1.3484,"l":1.3473,"c":1.3478},
{"i":271,"o":1.3478,"h":1.3494,"l":1.3476,"c":1.349},
{"i":272,"o":1.349,"h":1.3502,"l":1.3487,"c":1.3498},
{"i":273,"o":1.3498,"h":1.3507,"l":1.3495,"c":1.3503},
{"i":274,"o":1.3503,"h":1.351,"l":1.35,"c":1.3506},
{"i":275,"o":1.3506,"h":1.3534,"l":1.3503,"c":1.352},
{"i":276,"o":1.352,"h":1.3522,"l":1.3506,"c":1.351},
{"i":277,"o":1.351,"h":1.3513,"l":1.3504,"c":1.3508},
{"i":278,"o":1.3508,"h":1.351,"l":1.3498,"c":1.3502},
{"i":279,"o":1.3502,"h":1.3504,"l":1.3493,"c":1.3497},
{"i":280,"o":1.3497,"h":1.35,"l":1.349,"c":1.3494},
{"i":281,"o":1.3494,"h":1.3502,"l":1.3491,"c":1.3498},
{"i":282,"o":1.3498,"h":1.35,"l":1.3491,"c":1.3495},
{"i":283,"o":1.3495,"h":1.3498,"l":1.3489,"c":1.3493},
{"i":284,"o":1.3493,"h":1.351,"l":1.3491,"c":1.3507},
{"i":285,"o":1.3507,"h":1.3508,"l":1.3497,"c":1.3503}
],
"head":[{"txt":"▼ GBPUSD,H1  1.3507 1.3508 1.3497 1.3503"}]
},
"encoding":{
 "x":{"type":"quantitative","title":null,"scale":{"domain":[0,356.33],"nice":false,"zero":false},
  "axis":{"orient":"bottom","values":[0,8,16,24,32,40,48,56,64,72,80,88,96,104,112,120,128,136,144,152,160,168,176,184,192,200,208,216,224,232,240,248,256,264,272,280,288,296,304,312,320,328,336,344,352],
   "labelExpr":"datum.value % 16 == 0 && datum.value <= 272 ? ['26 May 2025','26 May 22:00','27 May 14:00','28 May 06:00','28 May 22:00','29 May 14:00','30 May 06:00','30 May 22:00','2 Jun 14:00','3 Jun 06:00','3 Jun 22:00','4 Jun 14:00','5 Jun 06:00','5 Jun 22:00','6 Jun 14:00','9 Jun 06:00','9 Jun 22:00','10 Jun 14:00'][datum.value / 16] : ''",
   "labelAlign":"left","labelBaseline":"top","labelPadding":2}},
 "y":{"type":"quantitative","title":null,"scale":{"domain":[1.3339,1.36905],"nice":false,"zero":false},
  "axis":{"orient":"right","values":[1.3345,1.3365,1.3385,1.3405,1.3425,1.3445,1.3465,1.3485,1.3505,1.3525,1.3545,1.3565,1.3585,1.3605,1.3625,1.3645,1.3665,1.3685],
   "labelExpr":"indexof(['1.3665','1.3505','1.3485'], format(datum.value, '.4f')) >= 0 ? '' : format(datum.value, '.4f')",
   "labelAlign":"left","labelBaseline":"middle","labelPadding":1}}
},
"layer":[
{"data":{"name":"levels"},"transform":[{"filter":"datum.kind == 'last'"}],
 "mark":{"type":"rule","color":"#707070","strokeWidth":1,"clip":false},
 "encoding":{"y":{"field":"p"},"x":{"datum":0},"x2":{"datum":357}}},
{"data":{"name":"candles"},
 "mark":{"type":"rule","color":"#22e822","strokeWidth":1,"clip":true},
 "encoding":{"x":{"field":"i"},"y":{"field":"l"},"y2":{"field":"h"}}},
{"data":{"name":"candles"},
 "mark":{"type":"bar","size":1.8,"clip":true},
 "encoding":{"x":{"field":"i"},"y":{"field":"o"},"y2":{"field":"c"},
  "color":{"condition":{"test":"datum.c >= datum.o","value":"#86ff86"},"value":"#00a800"}}},
{"data":{"name":"bb"},
 "mark":{"type":"line","color":"#ee0000","strokeWidth":1.6,"interpolate":"monotone","clip":true},
 "encoding":{"x":{"field":"i"},"y":{"field":"p"},"detail":{"field":"b"}}},
{"data":{"name":"levels"},"transform":[{"filter":"datum.kind != 'last'"}],
 "mark":{"type":"rule","clip":false},
 "encoding":{"y":{"field":"p"},"x":{"datum":0},"x2":{"datum":366},
  "color":{"field":"kind","type":"nominal","legend":null,"scale":{"domain":["major","minor","kijun","senkou"],"range":["#c00000","#c00000","#1010ff","#eaa6b8"]}},
  "strokeWidth":{"field":"kind","type":"nominal","legend":null,"scale":{"domain":["major","minor","kijun","senkou"],"range":[2,1,3.2,3]}}}},
{"data":{"name":"levels"},"transform":[{"filter":"datum.kind == 'senkou'"}],
 "mark":{"type":"rule","color":"#fff0f4","strokeWidth":1,"clip":false},
 "encoding":{"y":{"field":"p"},"x":{"datum":0},"x2":{"datum":366}}},
{"data":{"name":"trend"},
 "mark":{"type":"line","color":"#f0cc00","strokeWidth":1.5,"clip":true},
 "encoding":{"x":{"field":"i"},"y":{"field":"p"},"detail":{"field":"t"}}},
{"data":{"name":"levels"},"transform":[{"filter":"datum.kind == 'kijun'"}],
 "mark":{"type":"text","align":"right","baseline":"middle","dy":-10.5,"fontSize":10.5,"fontWeight":"bold","font":"Liberation Sans, Arial, sans-serif","color":"#0a0aff"},
 "encoding":{"x":{"datum":354.5},"y":{"field":"p"},"text":{"field":"name"}}},
{"data":{"name":"levels"},"transform":[{"filter":"datum.kind == 'senkou'"}],
 "mark":{"type":"text","align":"right","baseline":"middle","dy":-10.5,"fontSize":9.5,"fontWeight":"bold","font":"Liberation Sans, Arial, sans-serif","color":"#cdc4df","stroke":"#55506a","strokeWidth":0.4},
 "encoding":{"x":{"datum":354.5},"y":{"field":"p"},"text":{"field":"name"}}},
{"data":{"name":"levels"},
 "mark":{"type":"point","shape":"M-1,-0.4L1,-0.4L1,0.4L-1,0.4Z","size":484,"filled":true,"opacity":1,"clip":false},
 "encoding":{"x":{"datum":361.2},"y":{"field":"p"},
  "color":{"condition":{"test":"datum.kind == 'last'","value":"#ffffff"},"value":"#ff0000"}}},
{"data":{"name":"levels"},
 "mark":{"type":"text","align":"center","baseline":"middle","fontSize":6.3,"font":"Liberation Sans, Arial, sans-serif","clip":false},
 "encoding":{"x":{"datum":361.2},"y":{"field":"p"},
  "text":{"field":"p","type":"quantitative","format":".4f"},
  "color":{"condition":{"test":"datum.kind == 'last'","value":"#000000"},"value":"#ffffff"}}},
{"data":{"name":"head"},
 "mark":{"type":"text","align":"left","baseline":"middle","fontSize":6.5,"font":"Liberation Sans, Arial, sans-serif","color":"#e8e8e8"},
 "encoding":{"x":{"datum":0.8},"y":{"datum":1.36862},"text":{"field":"txt"}}}
]
}
